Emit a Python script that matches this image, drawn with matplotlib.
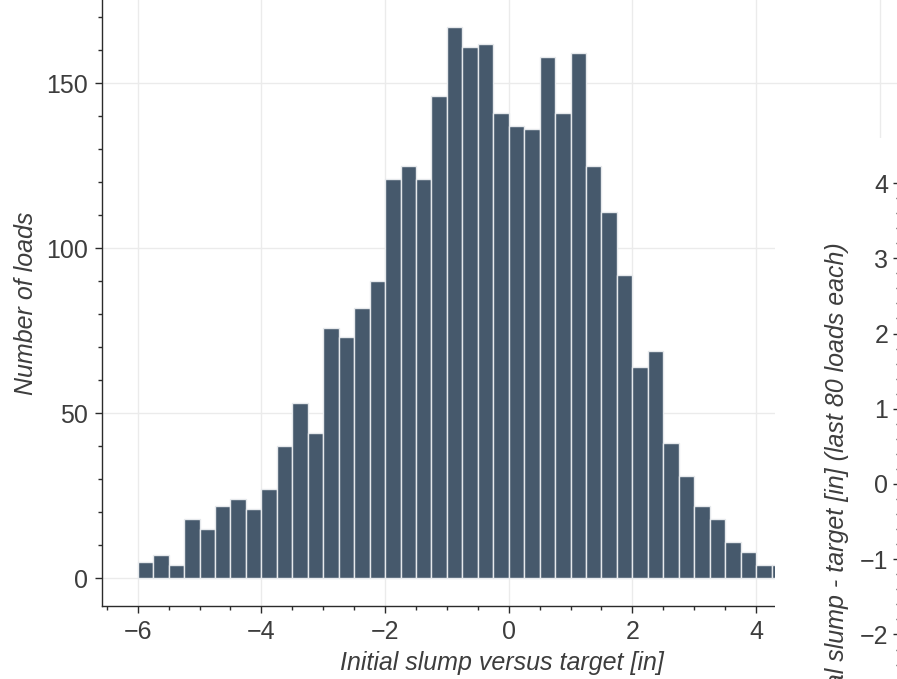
import numpy as np
import matplotlib
matplotlib.use("Agg")
import matplotlib.pyplot as plt
from matplotlib.patches import Rectangle
from matplotlib.ticker import MultipleLocator

# ---- data ----
bin_width = 0.25
bin_start = -6.0
counts = [5, 7, 4, 18, 15, 22, 24, 21, 27, 40, 53, 44, 76, 73, 82, 90,
          121, 125, 121, 146, 167, 161, 162, 141, 137, 136, 158, 141, 159,
          125, 111, 92, 64, 69, 41, 31, 22, 18, 11, 8, 4, 4]
bin_lefts = bin_start + bin_width * np.arange(len(counts))

xlabel = "Initial slump versus target [in]"
ylabel = "Number of loads"
ylabel2 = "Initial slump - target [in] (last 80 loads each)"

# ---- style ----
W, H = 897, 679
FS = 18
TXT = "#3d3d3d"
BAR = "#46596c"
GRID = "#ebebeb"
plt.rcParams["font.family"] = ["Liberation Sans", "DejaVu Sans"]

fig = plt.figure(figsize=(W / 100, H / 100), dpi=100)

def px_rect(x0, y0, x1, y1):
    # pixel coords (top-left origin) -> figure fraction [l, b, w, h]
    return [x0 / W, (H - y1) / H, (x1 - x0) / W, (y1 - y0) / H]

ax = fig.add_axes(px_rect(101.7, 0, 902, 606))
ax.bar(bin_lefts, counts, width=bin_width, align="edge", color=BAR,
       edgecolor="#e6e9ec", linewidth=1.0, zorder=2)
ax.set_xlim(-6.583, 6.36)
ax.set_ylim(-8.35, 175.2)
ax.xaxis.set_major_locator(MultipleLocator(2))
ax.xaxis.set_minor_locator(MultipleLocator(0.5))
ax.yaxis.set_major_locator(MultipleLocator(50))
ax.yaxis.set_minor_locator(MultipleLocator(10))
ax.grid(True, which="major", color=GRID, linewidth=1.0, zorder=0)
ax.set_axisbelow(True)
for s in ["top", "right"]:
    ax.spines[s].set_visible(False)
for s in ["left", "bottom"]:
    ax.spines[s].set_color("#2b2b2b")
    ax.spines[s].set_linewidth(1.0)
ax.tick_params(which="major", length=5, width=1, color="#2b2b2b",
               labelsize=FS, labelcolor=TXT, pad=5)
ax.tick_params(which="minor", length=3, width=1, color="#2b2b2b")
ax.set_xlabel(xlabel, fontsize=FS, style="italic", color=TXT, labelpad=5)
ax.set_ylabel(ylabel, fontsize=FS, style="italic", color=TXT, labelpad=5.5)

# white panel of the neighbouring plot covering the histogram's right part
fig.add_artist(Rectangle((775 / W, 0), 1, (H - 138) / H,
                         transform=fig.transFigure, facecolor="white",
                         edgecolor="none", zorder=0.5))

ax2 = fig.add_axes(px_rect(897.5, 180, 1200, 788))
ax2.set_zorder(1)
ax2.set_ylim(-4.04, 4.04)
ax2.set_xlim(0, 1)
ax2.yaxis.set_major_locator(MultipleLocator(1))
ax2.yaxis.set_minor_locator(MultipleLocator(0.2))
ax2.set_xticks([])
for s in ["top", "right", "bottom"]:
    ax2.spines[s].set_visible(False)
ax2.spines["left"].set_color("#2b2b2b")
ax2.tick_params(which="major", length=3.5, width=1, color="#2b2b2b",
                labelsize=FS, labelcolor=TXT, pad=3)
ax2.tick_params(which="minor", length=1.5, width=1, color="#2b2b2b")
ax2.set_ylabel(ylabel2, fontsize=FS, style="italic", color=TXT, labelpad=8)

fig.savefig("out.png", dpi=100)
